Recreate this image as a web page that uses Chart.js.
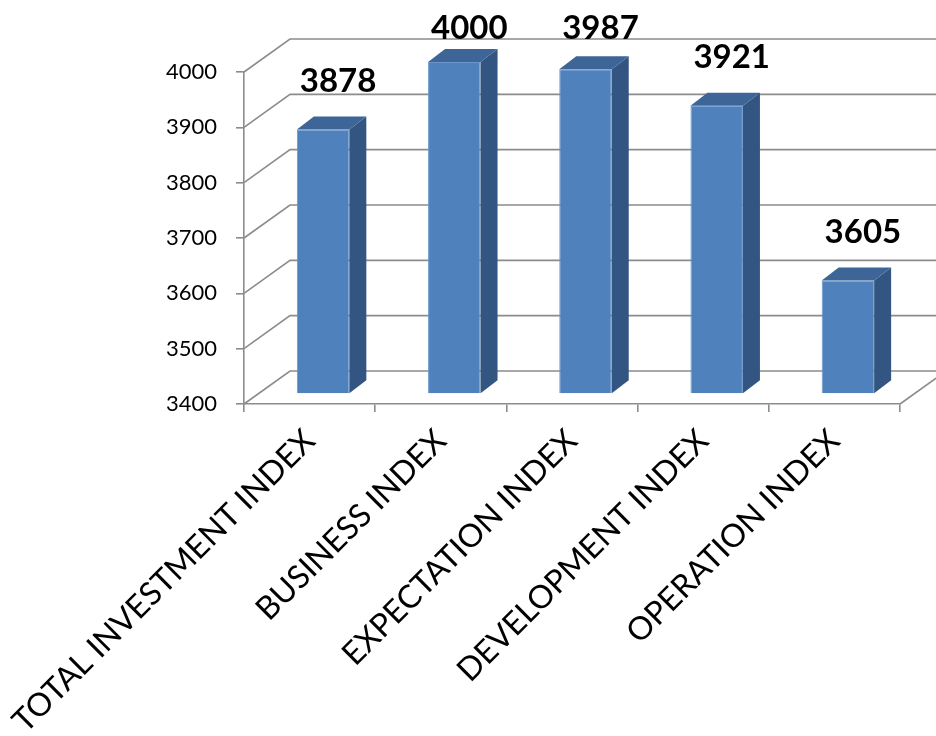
<!DOCTYPE html>
<html>
<head>
<meta charset="utf-8">
<script src="https://cdn.jsdelivr.net/npm/chart.js@4/dist/chart.umd.min.js"></script>
<style>
  html, body { margin: 0; padding: 0; background: #fff; }
  #wrap { width: 936px; height: 736px; }
</style>
</head>
<body>
<div id="wrap"><canvas id="grafico"></canvas></div>
<script>
const categorias = ["TOTAL INVESTMENT INDEX", "BUSINESS INDEX", "EXPECTATION INDEX", "DEVELOPMENT INDEX", "OPERATION INDEX"];
const valores = [3878, 4000, 3987, 3921, 3605];
const ejeMin = 3400;
const ejeMax = 4000;
const ejePaso = 100;

// perspectiva del "3D" de Excel
const PROF_X = 46, PROF_Y = -33;     // fondo de la pared
const BARRA_X = 13.5, BARRA_Y = -10; // desplazamiento de las barras
const LADO_X = 17, LADO_Y = -13;     // grosor de la barra
const GRIS = "#8c8c8c";

const tresD = {
    id: "tresD",
    beforeDatasetsDraw(chart) {
        const ctx = chart.ctx;
        const area = chart.chartArea;
        const y = chart.scales.y;
        ctx.save();
        ctx.strokeStyle = GRIS;
        ctx.lineWidth = 1.6;
        for (let v = ejeMin; v <= ejeMax; v += ejePaso) {
            const py = y.getPixelForValue(v);
            ctx.beginPath();
            ctx.moveTo(area.left, py);
            ctx.lineTo(area.left + PROF_X, py + PROF_Y);
            ctx.lineTo(chart.width, py + PROF_Y);
            ctx.stroke();
        }
        // borde derecho del piso
        ctx.beginPath();
        ctx.moveTo(area.right, area.bottom);
        ctx.lineTo(area.right + PROF_X, area.bottom + PROF_Y);
        ctx.stroke();
        ctx.restore();

        ctx.save();
        ctx.translate(BARRA_X, BARRA_Y);
    },
    afterDatasetsDraw(chart) {
        const ctx = chart.ctx;
        const meta = chart.getDatasetMeta(0);
        meta.data.forEach((bar) => {
            const p = bar.getProps(["x", "y", "base", "width"], true);
            const l = p.x - p.width / 2, r = p.x + p.width / 2;
            // cara lateral
            ctx.fillStyle = "#335582";
            ctx.beginPath();
            ctx.moveTo(r, p.y);
            ctx.lineTo(r + LADO_X, p.y + LADO_Y);
            ctx.lineTo(r + LADO_X, p.base + LADO_Y);
            ctx.lineTo(r, p.base);
            ctx.closePath();
            ctx.fill();
            // tapa
            ctx.fillStyle = "#3d6597";
            ctx.beginPath();
            ctx.moveTo(l, p.y);
            ctx.lineTo(r, p.y);
            ctx.lineTo(r + LADO_X, p.y + LADO_Y);
            ctx.lineTo(l + LADO_X, p.y + LADO_Y);
            ctx.closePath();
            ctx.fill();
        });
        ctx.restore();

        // etiquetas de valor
        ctx.save();
        ctx.font = "bold 33px Lato";
        ctx.fillStyle = "#000";
        ctx.textAlign = "center";
        ctx.textBaseline = "middle";
        meta.data.forEach((bar, i) => {
            const tx = bar.x + BARRA_X + 15;
            const ty = Math.max(bar.y + BARRA_Y - 48, 28);
            ctx.fillText(String(valores[i]), tx, ty);
        });
        ctx.restore();
    }
};

new Chart(document.getElementById("grafico"), {
    type: "bar",
    data: {
        labels: categorias,
        datasets: [{
            data: valores,
            base: ejeMin,
            backgroundColor: "#4f81bd",
            borderColor: "#6b96cb",
            borderWidth: 1,
            barPercentage: 0.4,
            categoryPercentage: 1,
            clip: false
        }]
    },
    options: {
        responsive: true,
        maintainAspectRatio: false,
        animation: false,
        layout: { padding: { top: 72, right: 36, left: 0, bottom: 0 } },
        plugins: {
            legend: { display: false },
            tooltip: { enabled: false }
        },
        scales: {
            x: {
                grid: { offset: true, drawOnChartArea: false, drawTicks: true, tickLength: 8, color: GRIS, lineWidth: 1.6 },
                border: { display: true, color: GRIS, width: 1.6 },
                ticks: {
                    autoSkip: false,
                    minRotation: 45,
                    maxRotation: 45,
                    padding: 10,
                    color: "#000",
                    font: { family: "Lato", size: 32 }
                },
                afterFit(scale) {
                    scale.height = 332;
                    scale.paddingLeft = 0;
                    scale.paddingRight = 0;
                }
            },
            y: {
                min: ejeMin,
                max: ejeMax,
                ticks: {
                    stepSize: ejePaso,
                    padding: 19,
                    color: "#000",
                    font: { family: "Lato", size: 22 },
                    callback: (v) => String(v)
                },
                grid: { drawOnChartArea: false, drawTicks: true, tickLength: 8, color: GRIS, lineWidth: 1.6 },
                border: { display: true, color: GRIS, width: 1.6 },
                afterFit(scale) { scale.width = 244; }
            }
        }
    },
    plugins: [tresD]
});
</script>
</body>
</html>
